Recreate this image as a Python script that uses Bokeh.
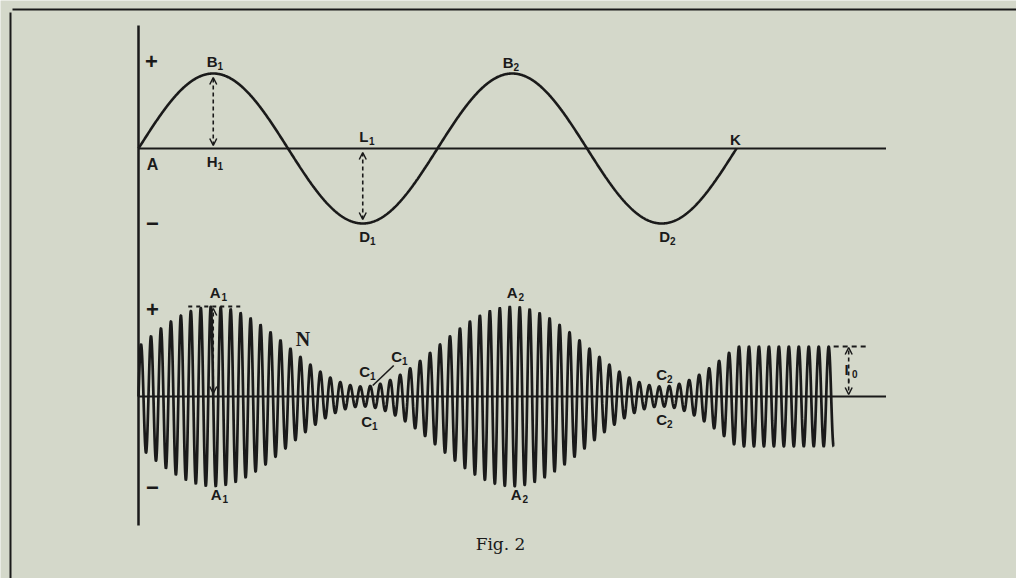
import numpy as np
from bokeh.plotting import figure
from bokeh.models import Range1d, Arrow, OpenHead, ColumnDataSource
from bokeh.core.properties import value
from bokeh.embed import file_html
from bokeh.resources import INLINE

# ---------------- data ----------------
# upper diagram: the signal (a sine of the low frequency)
signal_amplitude = 1.0            # height of B1, B2 and depth of D1, D2
signal_periods = 2.0              # from A to K
time_axis_length = 2.5            # the time axis runs on past K
# lower diagram: the modulated carrier
carrier_amplitude = 1.0           # I0, the unmodulated carrier
modulation_depth = 0.8            # A1, A2 = 1.8 I0 ; C1, C2 = 0.2 I0
carrier_cycles_per_period = 30    # carrier cycles in one signal period
carrier_end_cycles = 69.75        # the carrier is drawn up to this cycle

env_max = carrier_amplitude * (1 + modulation_depth)
env_min = carrier_amplitude * (1 - modulation_depth)
carrier_end_t = carrier_end_cycles / carrier_cycles_per_period

# labels of the upper diagram: letter, index, time (periods), level (amplitudes)
top_letters = ["B", "H", "L", "D", "B", "D", "K", "A", "+", "\u2212"]
top_indices = ["1", "1", "1", "1", "2", "2", "", "", "", ""]
top_times = [0.25, 0.25, 0.75, 0.75, 1.25, 1.75, 2.0, 0.0, 0.0, 0.0]
top_levels = [1, 0, 0, -1, 1, -1, 0, 0, 1, -1]

# labels of the lower diagram
bot_letters = ["A", "A", "C", "C", "C", "A", "A", "C", "C", "I", "+", "\u2212"]
bot_indices = ["1", "1", "1", "1", "1", "2", "2", "2", "2", "0", "", ""]
bot_times = [0.25, 0.25, 0.75, 0.75, 0.75, 1.25, 1.25, 1.75, 1.75,
             carrier_end_t, 0.0, 0.0]
bot_levels = [env_max, -env_max, env_min, env_min, -env_min, env_max, -env_max,
              env_min, -env_min, 0.0, env_max, -env_max]
n_label = "N"
n_time, n_level = 0.5, carrier_amplitude
caption = "Fig. 2"

# ---------------- layout / style ----------------
W, H = 1016, 578
PAGE = 0
X0, XS = 138.0, 299.0          # page x of t = 0, pixels per signal period
TOP_BASE, TOP_S = 148.0, 75.0  # page y of upper axis, pixels per amplitude
BOT_BASE, BOT_S = 396.0, 50.0  # page y of lower axis, pixels per I0
BG = "#d4d8ca"
INK = "#1a1a1a"
SANS = value("Liberation Sans")


def tx(px):
    return (px - X0) / XS


def ty(py):
    return (TOP_BASE - py) / TOP_S


def by(py):
    return (BOT_BASE - py) / BOT_S


p = figure(width=W, height=H, min_border=0, toolbar_location=None,
           output_backend="svg", x_axis_type=None, y_axis_type=None,
           x_range=Range1d(tx(PAGE), tx(PAGE + W)),
           y_range=Range1d(ty(PAGE + H), ty(PAGE)))
p.extra_y_ranges = {"bot": Range1d(by(PAGE + H), by(PAGE))}
p.background_fill_color = BG
p.border_fill_color = BG
p.outline_line_color = None

# page frame
p.line([tx(10), tx(10)], [ty(12), ty(PAGE + H)], line_color=INK, line_width=2)
p.line([tx(12), tx(PAGE + W)], [ty(9), ty(9)], line_color=INK, line_width=2)

# vertical axis and the two time axes
p.line([0, 0], [ty(25), ty(525)], line_color=INK, line_width=2.5)
p.line([0, time_axis_length], [0, 0], line_color=INK, line_width=2.2)
p.line([0, time_axis_length], [0, 0], line_color=INK, line_width=2.2,
       y_range_name="bot")

# upper diagram: the signal
t1 = np.linspace(0, signal_periods, 1200)
p.line(t1, signal_amplitude * np.sin(2 * np.pi * t1), line_color=INK,
       line_width=2.6)

# lower diagram: the modulated carrier
t2 = np.linspace(0, carrier_end_t, 9000)
env = np.where(t2 <= signal_periods,
               carrier_amplitude * (1 + modulation_depth * np.sin(2 * np.pi * t2)),
               carrier_amplitude)
wave = env * np.sin(2 * np.pi * carrier_cycles_per_period * t2)
p.line(t2, wave, line_color=INK, line_width=2.7, y_range_name="bot")

# dashed arrows
def dash_arrow(x, y0, y1, rng="default", start=True, end=True):
    kw = dict(x_start=x, y_start=y0, x_end=x, y_end=y1,
              line_color=INK, line_width=1.6, line_dash="4 3",
              y_range_name=rng)
    kw["start"] = OpenHead(size=7, line_color=INK, line_width=1.5) if start else None
    kw["end"] = OpenHead(size=7, line_color=INK, line_width=1.5) if end else None
    p.add_layout(Arrow(**kw))

dash_arrow(0.25, 3 / TOP_S, signal_amplitude - 4 / TOP_S)
dash_arrow(0.75, -4 / TOP_S, -signal_amplitude + 4 / TOP_S)
dash_arrow(0.25, 3 / BOT_S, env_max - 2 / BOT_S, rng="bot")
i0_x = carrier_end_t + 15 / XS
dash_arrow(i0_x, carrier_amplitude - 36 / BOT_S, carrier_amplitude - 1 / BOT_S,
           rng="bot", start=False)
dash_arrow(i0_x, 17 / BOT_S, 2 / BOT_S, rng="bot", start=False)

# dashed level markers
p.line([0.25 - 25 / XS, 0.25 + 27 / XS], [env_max, env_max], line_color=INK,
       line_width=1.8, line_dash="4 4", y_range_name="bot")
p.line([carrier_end_t, carrier_end_t + 32 / XS],
       [carrier_amplitude, carrier_amplitude], line_color=INK, line_width=1.8,
       line_dash="5 4", y_range_name="bot")
# leader from the second C1
p.line([0.75 + 10 / XS, 0.75 + 31 / XS], [env_min + 1 / BOT_S, env_min + 21 / BOT_S],
       line_color=INK, line_width=1.6, y_range_name="bot")

# label offsets (pixels)
top_dx = [-1, -1, 1, 2, -4, 3, -1, 14, 13, 14]
top_dy = [-12, 13, -12, 13, -11, 13, -9, 16, -12, 0]
top_size = ["15px"] * 7 + ["16px", "22px", "22px"]
bot_dx = [2, 3, 2, 34, 4, 0, 4, 0, 0, 13, 14, 14]
bot_dy = [-14, 8, -15, -30, 15, -14, 8, -12, 13, -27, 3, 1]
bot_size = ["15px"] * 10 + ["22px", "22px"]


def labels(ts, levels, letters, idx, dx, dy, sizes, rng):
    main = ColumnDataSource(dict(x=ts, y=levels, text=letters, dx=dx, dy=dy,
                                 size=sizes))
    p.text("x", "y", text="text", x_offset="dx", y_offset="dy", source=main,
           text_font=SANS, text_font_style="bold", text_font_size="size",
           text_align="center", text_baseline="middle", text_color=INK,
           y_range_name=rng)
    sx = [d + (9 if letter == "A" else 8) for d, letter in zip(dx, letters)]
    sub = ColumnDataSource(dict(x=ts, y=levels, text=idx, dx=sx,
                                dy=[d + 4 for d in dy]))
    p.text("x", "y", text="text", x_offset="dx", y_offset="dy", source=sub,
           text_font=SANS, text_font_style="bold", text_font_size="10px",
           text_align="center", text_baseline="middle", text_color=INK,
           y_range_name=rng)


labels(top_times, top_levels, top_letters, top_indices, top_dx, top_dy,
       top_size, "default")
labels(bot_times, bot_levels, bot_letters, bot_indices, bot_dx, bot_dy,
       bot_size, "bot")

p.text([n_time], [n_level], text=[n_label], x_offset=15, y_offset=-8,
       text_font=value("Liberation Serif"), text_font_style="bold",
       text_font_size="20px", text_align="center", text_baseline="middle",
       text_color=INK, y_range_name="bot")

p.text([tx(500)], [by(543)], text=[caption],
       text_font=value("DejaVu Serif"), text_font_size="17px",
       text_align="center", text_baseline="middle", text_color=INK,
       y_range_name="bot")

open("out.html", "w").write(file_html(p, INLINE))
